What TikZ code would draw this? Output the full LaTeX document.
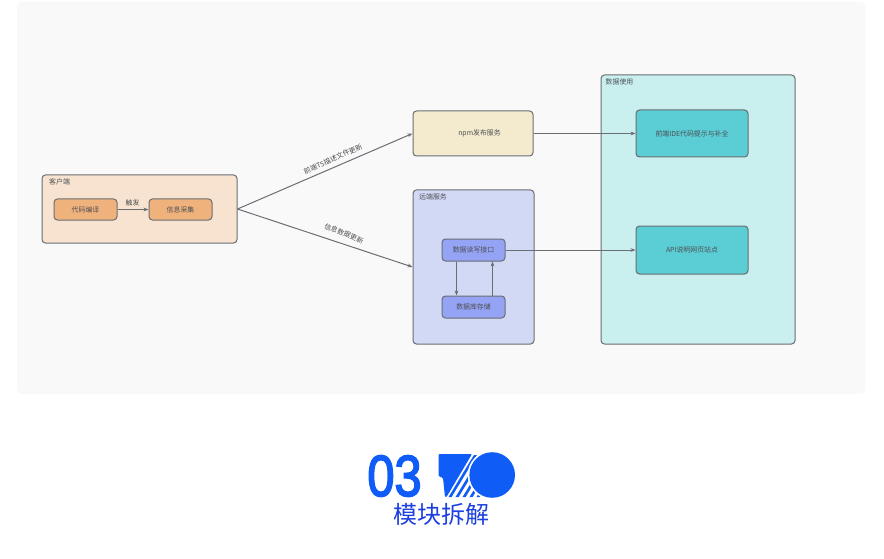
\documentclass[tikz,border=0pt]{standalone}
\usepackage{fontspec}
\setmainfont{Noto Sans CJK SC}
\newfontfamily\digitfont[FakeBold=3]{Liberation Sans}
\usetikzlibrary{arrows.meta}

\definecolor{panelgray}{HTML}{F9F9F9}
\definecolor{edgegray}{HTML}{6A6E74}
\definecolor{textgray}{HTML}{4C4F53}
\definecolor{clientfill}{HTML}{F8E3D0}
\definecolor{clientbox}{HTML}{F0B27C}
\definecolor{npmfill}{HTML}{F4EBCF}
\definecolor{remotefill}{HTML}{D2D9F5}
\definecolor{remotebox}{HTML}{95A3F4}
\definecolor{usagefill}{HTML}{C9EFEF}
\definecolor{usagebox}{HTML}{5BCDD5}
\definecolor{brandblue}{HTML}{0F5CF6}
\definecolor{titleblue}{HTML}{1C3FE0}

\tikzset{
  box/.style={draw=edgegray, line width=1pt, rounded corners=3.5pt, inner sep=0pt,
              text=textgray, font=\fontsize{6.9pt}{7pt}\selectfont},
  tag/.style={text=textgray, inner sep=0pt, font=\fontsize{6.9pt}{7pt}\selectfont},
  link/.style={draw=edgegray, line width=1pt, -{Stealth[length=5pt,width=3.8pt]}},
}

\begin{document}
\begin{tikzpicture}
\useasboundingbox (0pt,0pt) rectangle (884pt,-559pt);
\fill [white] (0pt,0pt) rectangle (884pt,-559pt);
\fill [panelgray, rounded corners=4pt] (17pt,-2pt) rectangle (865pt,-394pt);

\node (client) at (139.5pt,-209pt) [box, fill=clientfill, minimum width=195pt, minimum height=68pt] {};
\node (compile) at (85.5pt,-209.5pt) [box, fill=clientbox, minimum width=63pt, minimum height=21pt] {代码编译};
\node (collect) at (180.5pt,-209.5pt) [box, fill=clientbox, minimum width=63pt, minimum height=21pt] {信息采集};
\node (npm) at (473pt,-133.5pt) [box, fill=npmfill, minimum width=120pt, minimum height=45pt] {\hspace{13pt}npm发布服务};
\node (remote) at (473.5pt,-267pt) [box, fill=remotefill, minimum width=121pt, minimum height=154pt] {};
\node (rw) at (473.5pt,-250pt) [box, fill=remotebox, minimum width=63pt, minimum height=22pt] {数据读写接口};
\node (store) at (473.5pt,-307pt) [box, fill=remotebox, minimum width=63pt, minimum height=22pt] {数据库存储};
\node (usage) at (698pt,-209.5pt) [box, fill=usagefill, minimum width=194pt, minimum height=269pt] {};
\node (ide) at (692pt,-133.5pt) [box, fill=usagebox, minimum width=112pt, minimum height=47pt] {前端IDE代码提示与补全};
\node (api) at (692pt,-250pt) [box, fill=usagebox, minimum width=112pt, minimum height=48pt] {API说明网页站点};

\node (clienttag) at (49pt,-182pt) [tag, anchor=west] {客户端};
\node (remotetag) at (419pt,-197pt) [tag, anchor=west] {远端服务};
\node (usagetag) at (605.5pt,-82pt) [tag, anchor=west] {数据使用};
\node (trigger) at (132.5pt,-203pt) [tag] {触发};
\node (tslabel) at (333pt,-159pt) [tag, rotate=24] {前端TS描述文件更新};
\node (infolabel) at (344pt,-233.5pt) [tag, rotate=-22] {信息数据更新};

\draw [link] (compile) -- (collect);
\draw [link] (client.east) -- (npm.west);
\draw [link] (client.east) -- (remote.west);
\draw [link] (npm.east) -- (ide.west);
\draw [link] (rw.east) -- (api.west);
\draw [link] ([xshift=-17pt]rw.south) -- ([xshift=-17pt]store.north);
\draw [link] ([xshift=19pt]store.north) -- ([xshift=19pt]rw.south);

\node (num) at (394.5pt,-476pt) [text=brandblue, inner sep=0pt, xscale=0.84,
  font=\digitfont\fontsize{58pt}{60pt}\selectfont] {03};
\node (title) at (441.5pt,-514pt) [text=titleblue, inner sep=0pt,
  font=\fontsize{24pt}{26pt}\selectfont] {模块拆解};

\fill [brandblue, rounded corners=1pt] (438.5pt,-454pt) -- (472pt,-454pt) -- (446.5pt,-497pt)
  -- (445pt,-497pt) -- (443pt,-478pt) -- (438.5pt,-476pt) -- cycle;
\begin{scope}
\clip (474pt,-455pt) -- (448pt,-497pt) -- (482pt,-497pt) -- (482pt,-455pt) -- cycle;
\foreach \i in {0,...,5}
  \draw [brandblue, line width=2.6pt] (476pt+\i*7pt,-454pt) -- (449.5pt+\i*7pt,-498pt);
\end{scope}
\fill [white] (492.2pt,-475pt) circle (24.5pt);
\fill [brandblue] (492.2pt,-475pt) circle (22.8pt);
\end{tikzpicture}
\end{document}
